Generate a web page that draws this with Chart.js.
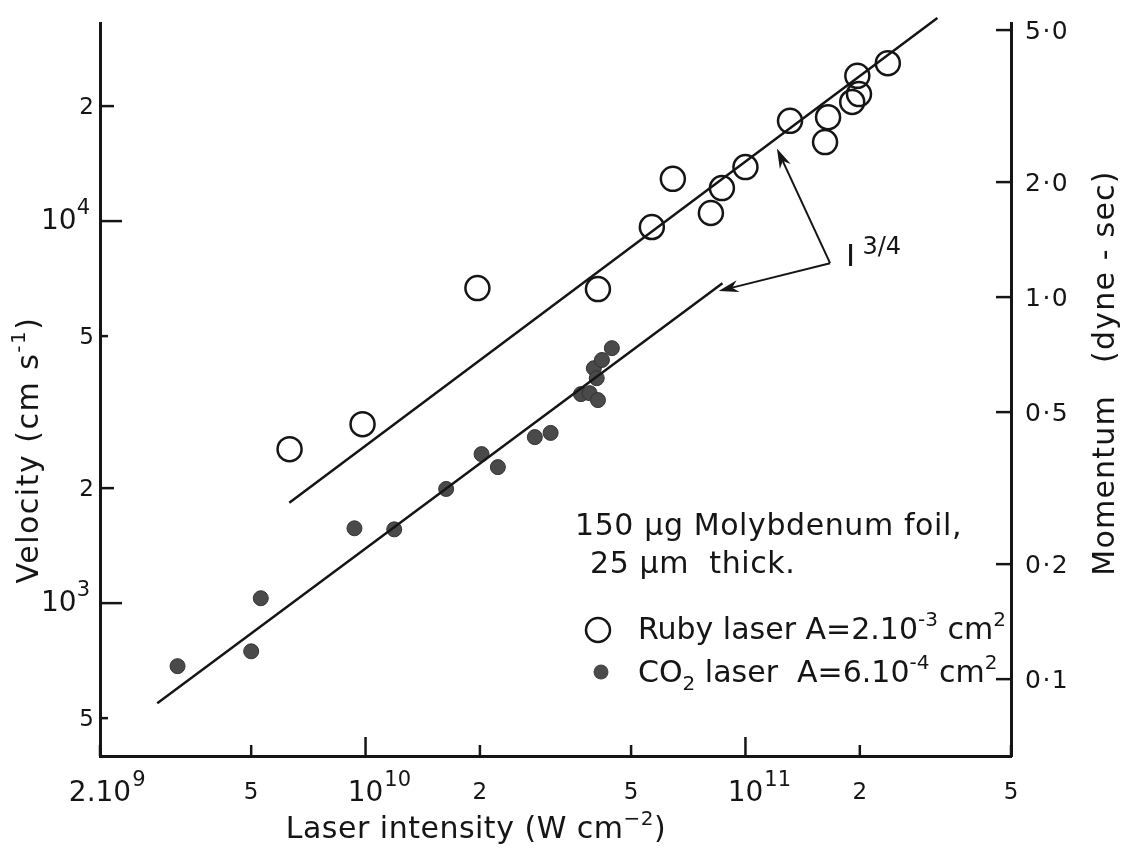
<!DOCTYPE html>
<html>
<head>
<meta charset="utf-8">
<script src="https://cdn.jsdelivr.net/npm/chart.js@4.4.1/dist/chart.umd.min.js"></script>
<style>
  html, body { margin: 0; padding: 0; background: #fff; }
  #wrap { width: 1126px; height: 848px; position: relative; }
</style>
</head>
<body>
<div id="wrap"><canvas id="plot"></canvas></div>
<script>
// axis ticks (log scales)
const intensityTicks = [2e9, 5e9, 1e10, 2e10, 5e10, 1e11, 2e11, 5e11];
const intensityLabels = [['2.10', '9'], ['5', ''], ['10', '10'], ['2', ''], ['5', ''], ['10', '11'], ['2', ''], ['5', '']];
const velocityTicks = [5e2, 1e3, 2e3, 5e3, 1e4, 2e4];
const velocityLabels = [['5', ''], ['10', '3'], ['2', ''], ['5', ''], ['10', '4'], ['2', '']];
const momentumTicks = [0.1, 0.2, 0.5, 1.0, 2.0, 5.0];
const momentumLabels = ['0·1', '0·2', '0·5', '1·0', '2·0', '5·0'];

// ruby laser (open circles)
const rubyIntensity = [6.31e9, 9.82e9, 1.97e10, 4.09e10, 5.67e10, 6.44e10, 8.11e10, 8.67e10,
  1.0e11, 1.31e11, 1.62e11, 1.65e11, 1.91e11, 1.99e11, 1.97e11, 2.37e11];
const rubyVelocity = [2530, 2940, 6680, 6640, 9650, 12900, 10500, 12200,
  13850, 18300, 16100, 18700, 20500, 21500, 24000, 25900];

// CO2 laser (filled dots)
const co2Intensity = [3.2e9, 5.0e9, 5.3e9, 9.35e9, 1.19e10, 1.63e10, 2.02e10, 2.23e10, 2.79e10,
  3.07e10, 3.69e10, 3.89e10, 4.09e10, 3.99e10, 4.19e10, 4.06e10, 4.45e10];
const co2Velocity = [684, 748, 1030, 1570, 1560, 1990, 2455, 2270, 2720,
  2790, 3525, 3545, 3400, 4120, 4330, 3880, 4650];

// I^(3/4) fit lines
const rubyFitIntensity = [6.3e9, 3.2e11];
const rubyFitVelocity = [1830, 34000];
const co2FitIntensity = [2.83e9, 8.7e10];
const co2FitVelocity = [547, 6880];

// arrows pointing at the fit lines, and the I^3/4 note
const arrowFrom = [1.67e11, 7760];
const arrowTips = [[1.21e11, 15500], [8.5e10, 6560]];
const slopeNoteAt = [1.89e11, 8245];

const VEL_MIN = 398, VEL_MAX = 33000;
const VEL_PER_MOMENTUM = 6325;   // momentum axis = velocity / this

const INK = '#151515';
const FONT = '"DejaVu Sans", "Noto Sans", sans-serif';

function pts(xs, ys) {
  return xs.map((x, i) => ({ x: x, y: ys[i] }));
}

// draw a run of text pieces: {t, size, dy}, ls = letter spacing
function rich(ctx, segs, x, y, align, ls) {
  ctx.letterSpacing = (ls || 0) + 'px';
  let w = 0;
  segs.forEach(s => { ctx.font = s.size + 'px ' + FONT; s.w = ctx.measureText(s.t).width; w += s.w; });
  let cx = align === 'center' ? x - w / 2 : align === 'right' ? x - w : x;
  ctx.textAlign = 'left';
  ctx.textBaseline = 'alphabetic';
  segs.forEach(s => {
    ctx.font = s.size + 'px ' + FONT;
    ctx.fillText(s.t, cx, y + (s.dy || 0));
    cx += s.w;
  });
  ctx.letterSpacing = '0px';
}

function arrow(ctx, x0, y0, x1, y1) {
  const a = Math.atan2(y1 - y0, x1 - x0);
  const len = 20, half = 6;
  ctx.beginPath();
  ctx.moveTo(x0, y0);
  ctx.lineTo(x1 - Math.cos(a) * len * 0.7, y1 - Math.sin(a) * len * 0.7);
  ctx.stroke();
  ctx.beginPath();
  ctx.moveTo(x1, y1);
  ctx.lineTo(x1 - Math.cos(a) * len - Math.sin(a) * half, y1 - Math.sin(a) * len + Math.cos(a) * half);
  ctx.lineTo(x1 - Math.cos(a) * len * 0.7, y1 - Math.sin(a) * len * 0.7);
  ctx.lineTo(x1 - Math.cos(a) * len + Math.sin(a) * half, y1 - Math.sin(a) * len - Math.cos(a) * half);
  ctx.closePath();
  ctx.fill();
}

const decor = {
  id: 'decor',
  afterDraw(chart) {
    const { ctx, chartArea: area } = chart;
    const xs = chart.scales.x, ys = chart.scales.y, ms = chart.scales.y2;
    ctx.save();
    ctx.strokeStyle = INK;
    ctx.fillStyle = INK;
    ctx.lineWidth = 2.5;

    // inward tick marks
    intensityTicks.forEach(v => {
      const px = xs.getPixelForValue(v);
      const major = Math.abs(Math.log10(v) % 1) < 1e-9;
      ctx.beginPath();
      ctx.moveTo(px, area.bottom);
      ctx.lineTo(px, area.bottom - (major ? 19 : 11));
      ctx.stroke();
    });
    velocityTicks.forEach(v => {
      const py = ys.getPixelForValue(v);
      const lg = Math.log10(v) % 1;
      const len = Math.abs(lg) < 1e-9 ? 22 : (Math.abs(lg - Math.log10(2)) < 1e-6 ? 14 : 8);
      ctx.beginPath();
      ctx.moveTo(area.left, py);
      ctx.lineTo(area.left + len, py);
      ctx.stroke();
    });
    momentumTicks.forEach(v => {
      const py = ms.getPixelForValue(v);
      ctx.beginPath();
      ctx.moveTo(area.right, py);
      ctx.lineTo(area.right - 15, py);
      ctx.stroke();
    });

    // tick labels
    intensityTicks.forEach((v, i) => {
      const px = xs.getPixelForValue(v);
      const [base, sup] = intensityLabels[i];
      if (sup) {
        ctx.font = '28px ' + FONT;
        const bw = ctx.measureText(base).width;
        ctx.textAlign = 'left';
        ctx.fillText(base, px - bw / 2, 801);
        ctx.font = '21px ' + FONT;
        ctx.fillText(sup, px + bw / 2 + 1, 786);
      } else {
        ctx.font = '23px ' + FONT;
        ctx.textAlign = 'center';
        ctx.fillText(base, px, 799);
      }
    });
    velocityTicks.forEach((v, i) => {
      const py = ys.getPixelForValue(v);
      const [base, sup] = velocityLabels[i];
      if (sup) {
        rich(ctx, [{ t: base, size: 28 }, { t: sup, size: 21, dy: -15 }], 90, py + 8, 'right');
      } else {
        ctx.font = '23px ' + FONT;
        ctx.textAlign = 'right';
        ctx.fillText(base, 94, py + 8);
      }
    });
    momentumTicks.forEach((v, i) => {
      const py = ms.getPixelForValue(v);
      rich(ctx, [{ t: momentumLabels[i], size: 25 }], 1025, py + 9, 'left', 1.5);
    });

    // axis titles
    rich(ctx, [{ t: 'Laser intensity (W cm', size: 30 }, { t: '−2', size: 20, dy: -13 }, { t: ')', size: 30 }],
      476, 838, 'center', 0.5);
    ctx.save();
    ctx.translate(38, 450);
    ctx.rotate(-Math.PI / 2);
    rich(ctx, [{ t: 'Velocity (cm s', size: 30 }, { t: '-1', size: 20, dy: -13 }, { t: ')', size: 30 }], 0, 0, 'center', 1.5);
    ctx.restore();
    ctx.save();
    ctx.translate(1114, 373);
    ctx.rotate(-Math.PI / 2);
    rich(ctx, [{ t: 'Momentum   (dyne - sec)', size: 30 }], 0, 0, 'center', 1.2);
    ctx.restore();

    // arrows and I^3/4 note
    ctx.lineWidth = 2;
    const ax = xs.getPixelForValue(arrowFrom[0]), ay = ys.getPixelForValue(arrowFrom[1]);
    arrowTips.forEach(t => arrow(ctx, ax, ay, xs.getPixelForValue(t[0]), ys.getPixelForValue(t[1])));
    const nx = xs.getPixelForValue(slopeNoteAt[0]), ny = ys.getPixelForValue(slopeNoteAt[1]);
    ctx.font = '31px ' + FONT;
    ctx.textAlign = 'center';
    ctx.fillText('I', nx, ny + 13);
    ctx.font = '24px ' + FONT;
    ctx.textAlign = 'left';
    ctx.fillText('3/4', nx + 12, ny + 1);

    // key
    rich(ctx, [{ t: '150 µg Molybdenum foil,', size: 30 }], 575, 535, 'left', 0.6);
    rich(ctx, [{ t: '25 µm  thick.', size: 30 }], 590, 573, 'left', 0.6);
    ctx.lineWidth = 2.5;
    ctx.beginPath();
    ctx.arc(598, 630, 12, 0, Math.PI * 2);
    ctx.stroke();
    ctx.fillStyle = '#4a4a4a';
    ctx.beginPath();
    ctx.arc(601, 672, 7.5, 0, Math.PI * 2);
    ctx.fill();
    ctx.fillStyle = INK;
    rich(ctx, [{ t: 'Ruby laser A=2.10', size: 30 }, { t: '-3', size: 20, dy: -13 }, { t: ' cm', size: 30 }, { t: '2', size: 20, dy: -13 }],
      638, 639, 'left');
    rich(ctx, [{ t: 'CO', size: 30 }, { t: '2', size: 20, dy: 8 }, { t: ' laser  A=6.10', size: 30 }, { t: '-4', size: 20, dy: -13 },
      { t: ' cm', size: 30 }, { t: '2', size: 20, dy: -13 }], 638, 682, 'left');

    ctx.restore();
  }
};

function logAxis(min, max, position, tickValues, fit) {
  return {
    type: 'logarithmic',
    position: position,
    min: min,
    max: max,
    grid: { display: false, drawTicks: false },
    border: { display: true, width: 3, color: INK },
    ticks: { display: false },
    afterBuildTicks: s => { s.ticks = tickValues.map(v => ({ value: v })); },
    afterFit: fit
  };
}

new Chart(document.getElementById('plot'), {
  type: 'scatter',
  data: {
    datasets: [
      {
        label: 'Ruby fit',
        data: pts(rubyFitIntensity, rubyFitVelocity),
        showLine: true, pointRadius: 0, borderColor: INK, borderWidth: 2.5, clip: false
      },
      {
        label: 'CO2 fit',
        data: pts(co2FitIntensity, co2FitVelocity),
        showLine: true, pointRadius: 0, borderColor: INK, borderWidth: 2.5, clip: false
      },
      {
        label: 'Ruby laser',
        data: pts(rubyIntensity, rubyVelocity),
        pointRadius: 12, pointBorderWidth: 2.5,
        borderColor: INK, backgroundColor: 'rgba(255,255,255,0)'
      },
      {
        label: 'CO2 laser',
        data: pts(co2Intensity, co2Velocity),
        pointRadius: 7.5, pointBorderWidth: 1,
        borderColor: '#333', backgroundColor: '#4a4a4a'
      }
    ]
  },
  options: {
    responsive: true,
    maintainAspectRatio: false,
    animation: false,
    layout: { padding: { left: 100, right: 115, top: 23, bottom: 92 } },
    plugins: { legend: { display: false }, tooltip: { enabled: false } },
    scales: {
      x: logAxis(2e9, 5e11, 'bottom', intensityTicks, s => { s.height = 0; }),
      y: logAxis(VEL_MIN, VEL_MAX, 'left', velocityTicks, s => { s.width = 0; }),
      y2: logAxis(VEL_MIN / VEL_PER_MOMENTUM, VEL_MAX / VEL_PER_MOMENTUM, 'right', momentumTicks, s => { s.width = 0; })
    }
  },
  plugins: [decor]
});
</script>
</body>
</html>
